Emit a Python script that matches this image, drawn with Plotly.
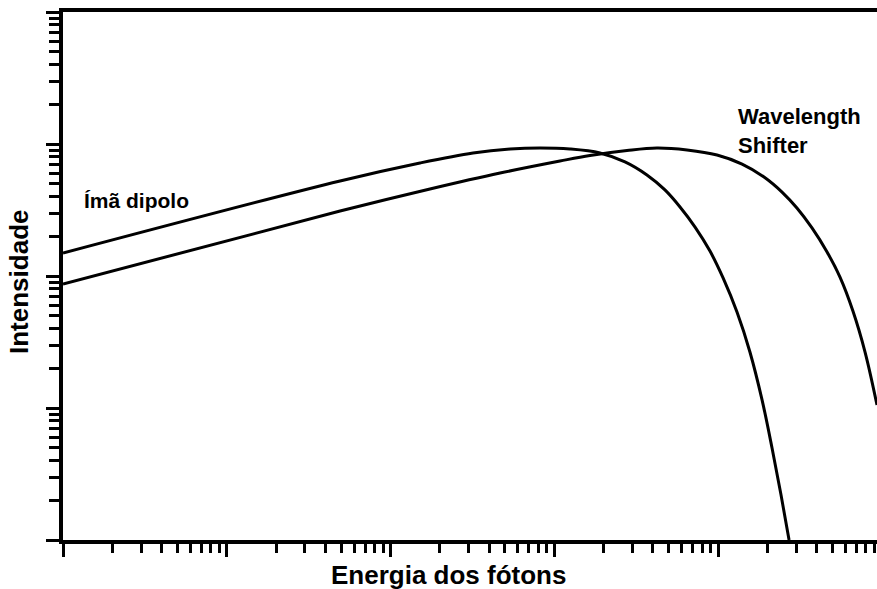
import plotly.graph_objects as go

# Curves are stored as base-10 exponents (decades) of energy and intensity.
# Bending magnet ("Ímã dipolo")
dipolo_log_e = [0.000, 1.692, 2.180, 2.504, 2.730, 2.913, 3.096, 3.279, 3.432,
                3.566, 3.676, 3.768, 3.860, 3.951, 4.031, 4.116, 4.195, 4.269,
                4.330, 4.385, 4.434]
dipolo_log_i = [2.174, 2.720, 2.856, 2.932, 2.962, 2.970, 2.962, 2.932, 2.864,
                2.765, 2.652, 2.523, 2.371, 2.189, 1.985, 1.727, 1.424, 1.061,
                0.697, 0.341, 0.000]

# Wavelength shifter
wls_log_e = [0.000, 1.692, 2.241, 2.669, 3.035, 3.218, 3.444, 3.627, 3.811,
             3.994, 4.147, 4.281, 4.391, 4.482, 4.574, 4.666, 4.745, 4.824,
             4.898, 4.971]
wls_log_i = [1.939, 2.492, 2.659, 2.780, 2.871, 2.913, 2.951, 2.970, 2.955,
             2.917, 2.848, 2.750, 2.636, 2.515, 2.364, 2.182, 1.992, 1.735,
             1.424, 1.023]

FONT = "Liberation Sans, Arial, sans-serif"

fig = go.Figure()
for le, li in ((dipolo_log_e, dipolo_log_i), (wls_log_e, wls_log_i)):
    fig.add_trace(go.Scatter(
        x=[10 ** v for v in le], y=[10 ** v for v in li], mode="lines",
        line=dict(color="black", width=3, shape="spline", smoothing=1.0),
        showlegend=False, hoverinfo="skip",
    ))

fig.update_layout(
    width=877, height=589,
    margin=dict(l=63, r=0, t=12, b=49),
    paper_bgcolor="white", plot_bgcolor="white",
    font=dict(family=FONT, color="black"),
)

fig.update_xaxes(
    type="log", range=[0, 4.971],
    showgrid=False, zeroline=False, showticklabels=False,
    showline=True, linecolor="black", linewidth=3.5, mirror=True,
    ticks="outside", dtick=1, ticklen=13, tickwidth=3, tickcolor="black",
    minor=dict(ticks="outside", dtick="D1", ticklen=9, tickwidth=3,
               tickcolor="black", showgrid=False),
)
fig.update_yaxes(
    type="log", range=[0, 4],
    showgrid=False, zeroline=False, showticklabels=False,
    showline=True, linecolor="black", linewidth=3.5,
    ticks="outside", dtick=1, ticklen=13, tickwidth=3, tickcolor="black",
    minor=dict(ticks="outside", dtick="D1", ticklen=10, tickwidth=3,
               tickcolor="black", showgrid=False),
)

labels = [
    dict(text="<b>Ímã dipolo</b>", x=(82 - 63) / 814, y=(540 - 200) / 528,
         xanchor="left", size=21, textangle=0, align="left"),
    dict(text="<b>Wavelength<br>Shifter</b>", x=(736 - 63) / 814,
         y=(540 - 131) / 528, xanchor="left", size=22, textangle=0,
         align="left"),
    dict(text="<b>Energia dos fótons</b>", x=(448 - 63) / 814,
         y=(540 - 575) / 528, xanchor="center", size=26, textangle=0,
         align="center"),
    dict(text="<b>Intensidade</b>", x=(19 - 63) / 814, y=(540 - 282) / 528,
         xanchor="center", size=26, textangle=-90, align="center"),
]
for lab in labels:
    fig.add_annotation(
        text=lab["text"], xref="paper", yref="paper", x=lab["x"], y=lab["y"],
        xanchor=lab["xanchor"], yanchor="middle", showarrow=False,
        textangle=lab["textangle"], align=lab["align"],
        font=dict(family=FONT, size=lab["size"], color="black"),
    )

fig.write_html("out.html")
